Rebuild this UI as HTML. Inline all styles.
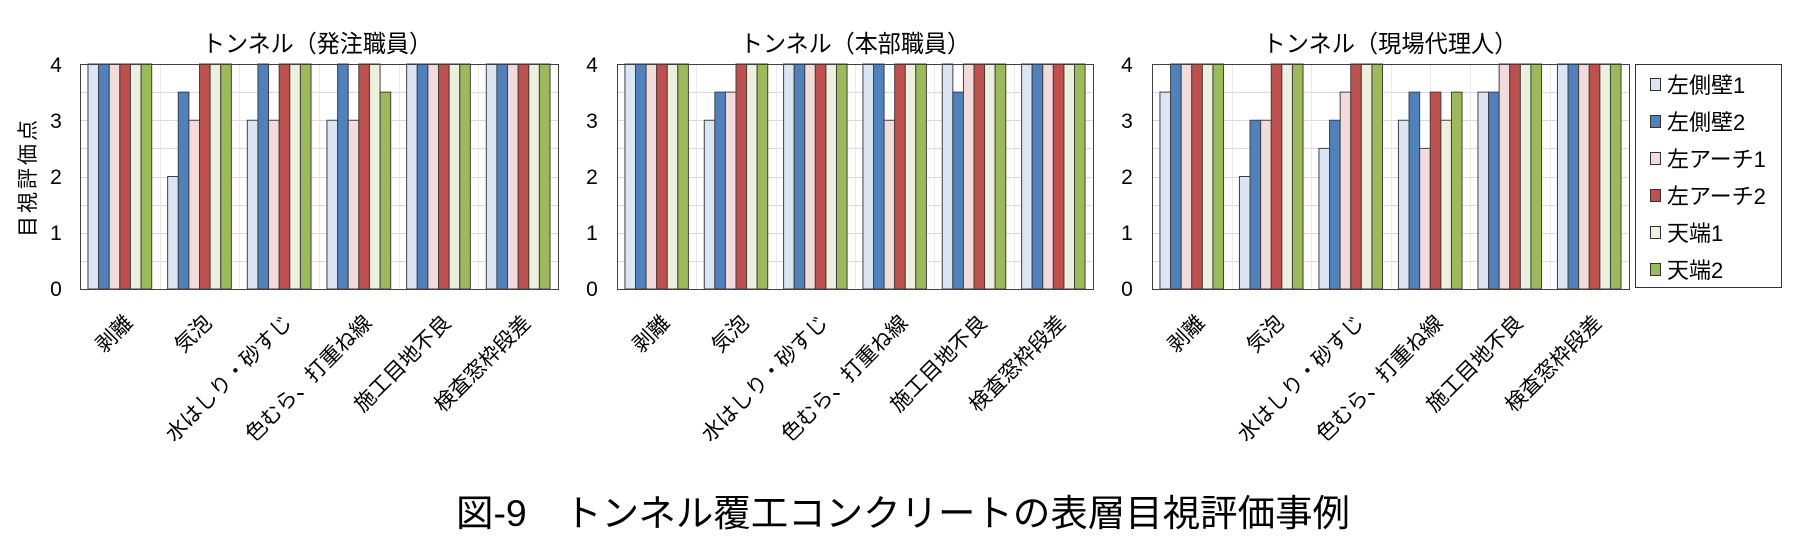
<!DOCTYPE html>
<html><head><meta charset="utf-8"><style>
html,body{margin:0;padding:0;background:#fff;}
svg{display:block;}
text{font-family:"Liberation Sans","Noto Sans CJK JP",sans-serif;fill:#000;}
</style></head><body>
<svg id="s" width="1800" height="543" viewBox="0 0 1800 543" xmlns="http://www.w3.org/2000/svg">
<g id="bars"></g>
<!-- titles -->
<text x="317" y="52" font-size="24" text-anchor="middle" textLength="230" lengthAdjust="spacingAndGlyphs">トンネル（発注職員）</text>
<text x="855" y="52" font-size="24" text-anchor="middle" textLength="230" lengthAdjust="spacingAndGlyphs">トンネル（本部職員）</text>
<text x="1390" y="52" font-size="24" text-anchor="middle" textLength="255" lengthAdjust="spacingAndGlyphs">トンネル（現場代理人）</text>
<!-- y axis title -->
<text transform="translate(35,177) rotate(-90)" font-size="21" text-anchor="middle" letter-spacing="3">目視評価点</text>
<!-- y ticks -->
<g font-size="21" text-anchor="middle">
<text x="56" y="72">4</text><text x="56" y="128">3</text><text x="56" y="184">2</text><text x="56" y="240">1</text><text x="56" y="296">0</text>
<text x="592" y="72">4</text><text x="592" y="128">3</text><text x="592" y="184">2</text><text x="592" y="240">1</text><text x="592" y="296">0</text>
<text x="1127" y="72">4</text><text x="1127" y="128">3</text><text x="1127" y="184">2</text><text x="1127" y="240">1</text><text x="1127" y="296">0</text>
</g>
<!-- category labels -->
<g font-size="21" text-anchor="end">
<text transform="translate(134,324) rotate(-45)">剥離</text>
<text transform="translate(213,324) rotate(-45)">気泡</text>
<text transform="translate(293,324) rotate(-45)">水はしり・砂すじ</text>
<text transform="translate(373,324) rotate(-45)">色むら、打重ね線</text>
<text transform="translate(452,324) rotate(-45)">施工目地不良</text>
<text transform="translate(532,324) rotate(-45)">検査窓枠段差</text>

<text transform="translate(671,324) rotate(-45)">剥離</text>
<text transform="translate(750,324) rotate(-45)">気泡</text>
<text transform="translate(829,324) rotate(-45)">水はしり・砂すじ</text>
<text transform="translate(909,324) rotate(-45)">色むら、打重ね線</text>
<text transform="translate(988,324) rotate(-45)">施工目地不良</text>
<text transform="translate(1067,324) rotate(-45)">検査窓枠段差</text>

<text transform="translate(1206,324) rotate(-45)">剥離</text>
<text transform="translate(1285,324) rotate(-45)">気泡</text>
<text transform="translate(1365,324) rotate(-45)">水はしり・砂すじ</text>
<text transform="translate(1444,324) rotate(-45)">色むら、打重ね線</text>
<text transform="translate(1524,324) rotate(-45)">施工目地不良</text>
<text transform="translate(1603,324) rotate(-45)">検査窓枠段差</text>
</g>
<!-- legend -->
<rect x="1635.5" y="64.5" width="146" height="223" fill="#fff" stroke="#333" stroke-width="1"/>
<g stroke="#333" stroke-width="1">
<rect x="1650.5" y="78.5" width="10" height="12" fill="#dce6f2"/>
<rect x="1650.5" y="115.5" width="10" height="12" fill="#4f81bd"/>
<rect x="1650.5" y="152.5" width="10" height="12" fill="#f2dcdb"/>
<rect x="1650.5" y="189.5" width="10" height="12" fill="#c0504d"/>
<rect x="1650.5" y="226.5" width="10" height="12" fill="#ebf1de"/>
<rect x="1650.5" y="263.5" width="10" height="12" fill="#9bbb59"/>
</g>
<g font-size="22">
<text x="1667" y="93">左側壁1</text>
<text x="1667" y="130">左側壁2</text>
<text x="1667" y="167">左アーチ1</text>
<text x="1667" y="204">左アーチ2</text>
<text x="1667" y="241">天端1</text>
<text x="1667" y="278">天端2</text>
</g>
<!-- caption -->
<text x="456" y="526" font-size="37" textLength="894" lengthAdjust="spacingAndGlyphs">図-9　トンネル覆工コンクリートの表層目視評価事例</text>
</svg>
<script>
(function(){
var NS="http://www.w3.org/2000/svg",g=document.getElementById("bars");
var cols=["#dce6f2","#4f81bd","#f2dcdb","#c0504d","#ebf1de","#9bbb59"];
var charts=[
 {x0:80,x1:558,d:[[4,4,4,4,4,4],[2,3.5,3,4,4,4],[3,4,3,4,4,4],[3,4,3,4,4,3.5],[4,4,4,4,4,4],[4,4,4,4,4,4]]},
 {x0:617,x1:1093,d:[[4,4,4,4,4,4],[3,3.5,3.5,4,4,4],[4,4,4,4,4,4],[4,4,3,4,4,4],[4,3.5,4,4,4,4],[4,4,4,4,4,4]]},
 {x0:1152,x1:1629,d:[[3.5,4,4,4,4,4],[2,3,3,4,4,4],[2.5,3,3.5,4,4,4],[3,3.5,2.5,3.5,3,3.5],[3.5,3.5,4,4,4,4],[4,4,4,4,4,4]]}
];
var top=64,bot=289,h=bot-top;
function r(x,y,w,hh,f,s,sw){var e=document.createElementNS(NS,"rect");e.setAttribute("x",x);e.setAttribute("y",y);e.setAttribute("width",w);e.setAttribute("height",hh);e.setAttribute("fill",f);if(s){e.setAttribute("stroke",s);e.setAttribute("stroke-width",sw);}g.appendChild(e);}
function l(x1,y1,x2,y2,c){var e=document.createElementNS(NS,"line");e.setAttribute("x1",x1);e.setAttribute("y1",y1);e.setAttribute("x2",x2);e.setAttribute("y2",y2);e.setAttribute("stroke",c);e.setAttribute("stroke-width",1);g.appendChild(e);}
charts.forEach(function(c){
 var W=c.x1-c.x0,gw=W/6,bw=gw*0.8/6;
 r(c.x0+0.5,top+0.5,W,h,"#fff");
 for(var k=1;k<8;k++){var y=Math.round(top+h*k/8)+0.5;l(c.x0,y,c.x1,y,"#d9d9d9");}
 for(var k=1;k<12;k++){var x=Math.round(c.x0+gw*k/2)+0.5;l(x,top,x,bot,"#e8e8e8");}
 c.d.forEach(function(v,i){
  var gx=c.x0+gw*i+gw*0.1;
  v.forEach(function(val,j){var bh=h*val/4;r(gx+bw*j,bot-bh,bw,bh,cols[j],"#404040",1);});
 });
 r(c.x0+0.5,top+0.5,W,h,"none","#404040",1);
});
})();
</script>
</body></html>
